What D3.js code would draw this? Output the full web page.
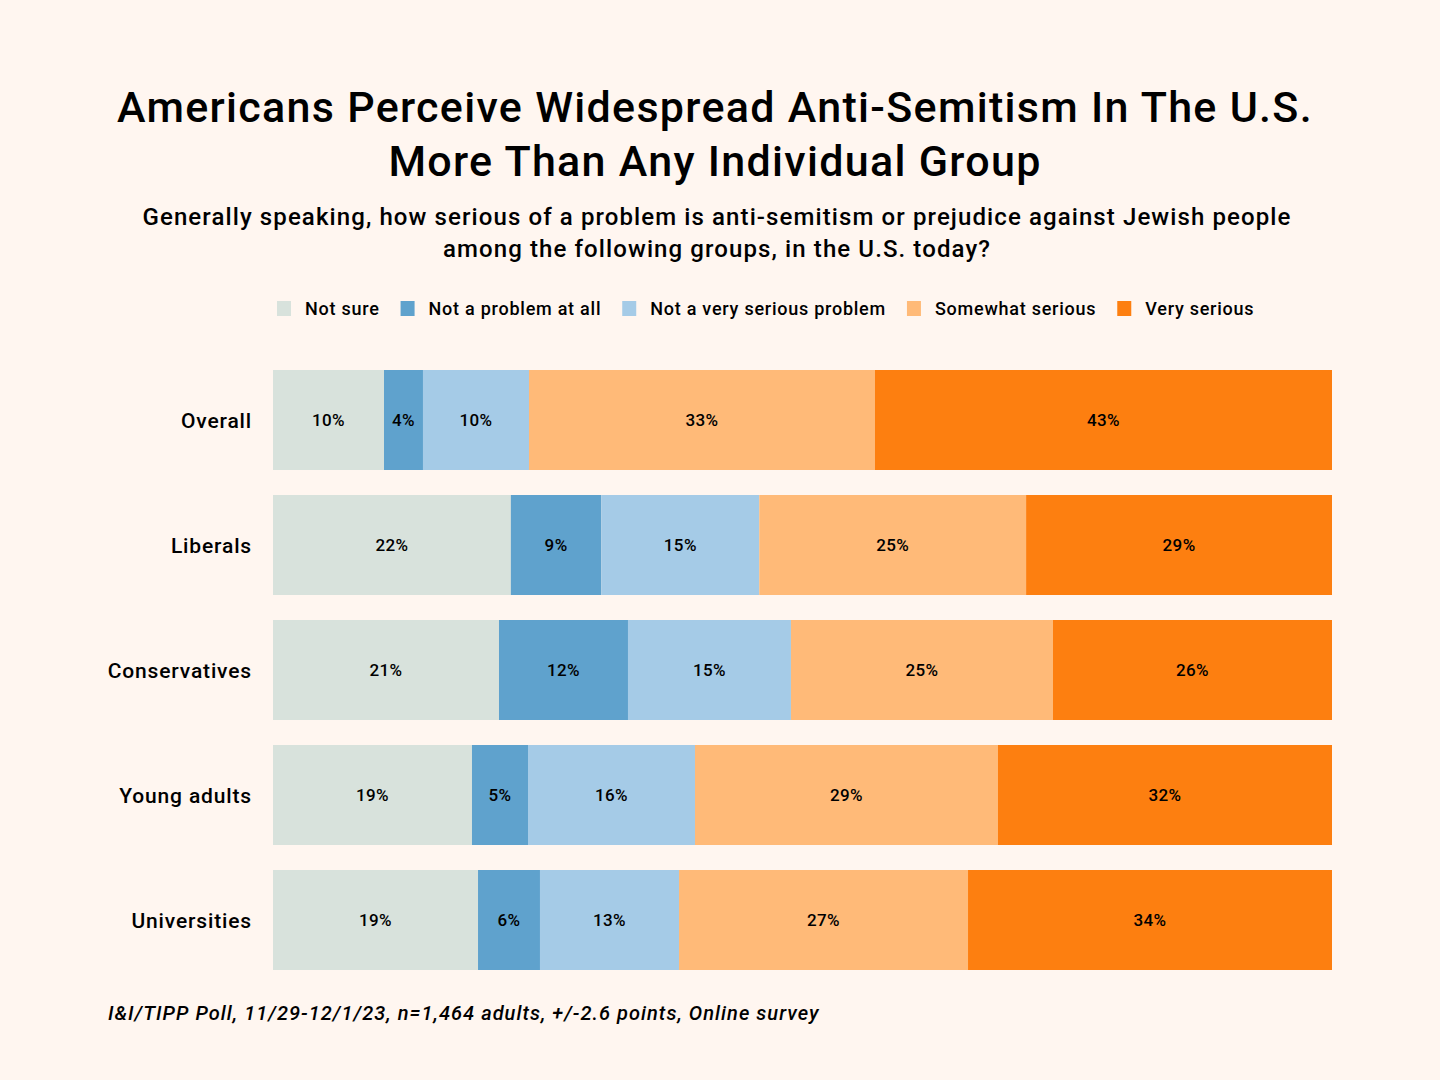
<!DOCTYPE html>
<html>
<head>
<meta charset="utf-8">
<script src="https://cdn.jsdelivr.net/npm/d3@7"></script>
<style>
  body { margin: 0; background: #fff6f0; }
  svg { display: block; }
  text { font-family: "Roboto", "Liberation Sans", sans-serif; fill: #000; }
</style>
</head>
<body>
<script>
var groups = ['Overall', 'Liberals', 'Conservatives', 'Young adults', 'Universities'];
var categories = ['Not sure', 'Not a problem at all', 'Not a very serious problem', 'Somewhat serious', 'Very serious'];
var colors = ['#d8e2dc', '#5fa2cd', '#a5cbe7', '#ffba78', '#fd7f10'];
// shares (labels are rounded)
var notSure = [10.48, 22.47, 21.34, 18.79, 19.36];
var notProblem = [3.68, 8.55, 12.18, 5.29, 5.85];
var notVerySerious = [10.01, 14.92, 15.39, 15.77, 13.13];
var somewhatSerious = [32.67, 25.21, 24.74, 28.61, 27.29];
var verySerious = [43.15, 28.90, 26.35, 31.54, 34.37];

var series = [notSure, notProblem, notVerySerious, somewhatSerious, verySerious];

var width = 1440, height = 1080;
var margin = {'top': 370, 'left': 273, 'right': 108, 'bottom': 110};

var svg = d3.select('body').append('svg')
    .attr('width', width)
    .attr('height', height);

svg.append('rect').attr('width', width).attr('height', height).attr('fill', '#fff6f0');

// titles
var title = ['Americans Perceive Widespread Anti-Semitism In The U.S.', 'More Than Any Individual Group'];
title.forEach(function(t, i) {
    svg.append('text')
        .attr('x', 715).attr('y', 122 + i * 54)
        .attr('text-anchor', 'middle')
        .style('font-size', '43px')
        .style('font-weight', '500')
        .style('letter-spacing', '1.3px')
        .text(t);
});
var subtitle = ['Generally speaking, how serious of a problem is anti-semitism or prejudice against Jewish people', 'among the following groups, in the U.S. today?'];
subtitle.forEach(function(t, i) {
    svg.append('text')
        .attr('x', 717).attr('y', 225 + i * 32)
        .attr('text-anchor', 'middle')
        .style('font-size', '24px')
        .style('font-weight', '500')
        .style('letter-spacing', '1.1px')
        .text(t);
});

// legend
var legend = svg.append('g').attr('class', 'legend');
var lx = 277;
categories.forEach(function(c, i) {
    legend.append('rect')
        .attr('x', lx).attr('y', 301)
        .attr('width', 14).attr('height', 15)
        .attr('fill', colors[i]);
    var t = legend.append('text')
        .attr('x', lx + 28).attr('y', 315)
        .style('font-size', '18px')
        .style('font-weight', '500')
        .style('letter-spacing', '0.75px')
        .text(c);
    lx += 28 + t.node().getComputedTextLength() + 21;
});

// stacked data
var rows = groups.map(function(g, gi) {
    var total = d3.sum(series, function(s) { return s[gi]; });
    var acc = 0;
    return series.map(function(s, si) {
        var seg = {'group': g, 'cat': si, 'value': s[gi], 'x0': acc / total, 'x1': (acc + s[gi]) / total};
        acc += s[gi];
        return seg;
    });
});

var x = d3.scaleLinear().domain([0, 1]).range([margin.left, width - margin.right]);
var y = d3.scaleBand().domain(groups).range([margin.top - 12.5, 982.5]).paddingInner(0.2).paddingOuter(0.1);

var chart = svg.append('g').attr('class', 'chart');

rows.forEach(function(row) {
    var g = chart.append('g').attr('class', 'row');
    g.selectAll('rect').data(row).enter().append('rect')
        .attr('x', function(d) { return x(d.x0); })
        .attr('y', function(d) { return y(d.group); })
        .attr('width', function(d) { return x(d.x1) - x(d.x0); })
        .attr('height', y.bandwidth())
        .attr('fill', function(d) { return colors[d.cat]; });
    g.selectAll('text').data(row).enter().append('text')
        .attr('x', function(d) { return (x(d.x0) + x(d.x1)) / 2; })
        .attr('y', function(d) { return y(d.group) + y.bandwidth() / 2 + 6; })
        .attr('text-anchor', 'middle')
        .style('font-size', '17px')
        .style('font-weight', '500')
        .style('letter-spacing', '0.4px')
        .text(function(d) { return Math.round(d.value) + '%'; });
});

// group labels
chart.selectAll('.glabel').data(groups).enter().append('text')
    .attr('class', 'glabel')
    .attr('x', 252)
    .attr('y', function(d) { return y(d) + y.bandwidth() / 2 + 8; })
    .attr('text-anchor', 'end')
    .style('font-size', '21px')
    .style('font-weight', '500')
    .style('letter-spacing', '0.85px')
    .text(function(d) { return d; });

// source
svg.append('text')
    .attr('x', 108).attr('y', 1020)
    .style('font-size', '20px')
    .style('font-style', 'italic')
    .style('font-weight', '500')
    .style('letter-spacing', '1.05px')
    .text('I&I/TIPP Poll, 11/29-12/1/23, n=1,464 adults, +/-2.6 points, Online survey');
</script>
</body>
</html>
